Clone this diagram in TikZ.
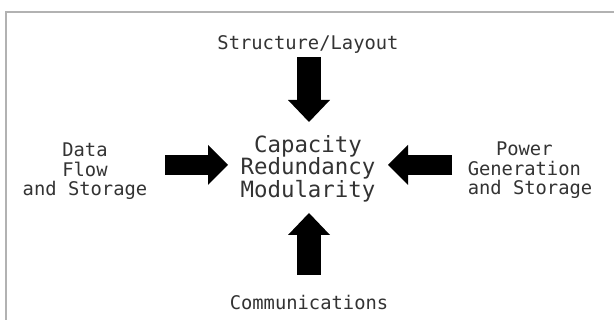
\documentclass[tikz,border=0pt]{standalone}
\usepackage{fontspec}
\setmonofont{DejaVu Sans Mono}
\usetikzlibrary{arrows.meta}

\tikzset{
  small label/.style={font=\ttfamily\fontsize{18.8}{19.5}\selectfont, text=black!80, align=center, inner sep=0pt},
  big label/.style={font=\ttfamily\fontsize{22.4}{22.5}\selectfont, text=black!80, align=center, inner sep=0pt},
  vblock/.style={line width=24pt, -{Triangle[width=42pt,length=22pt,line width=0pt]}},
  hblock/.style={line width=20pt, -{Triangle[width=40pt,length=20pt,line width=0pt]}}
}

\begin{document}
\begin{tikzpicture}[x=1pt,y=-1pt]
\useasboundingbox (0,0) rectangle (614,320);
\fill[white] (0,0) rectangle (614,320);

% frame
\draw[black!30, line width=1.5pt] (6,320) -- (6,12) -- (614,12);

% labels
\node[small label, anchor=base] (structure) at (308,49.5) {Structure/Layout};
\node[small label, anchor=base] (comms) at (309,310) {Communications};
\node[small label] (data) at (85,171.5) {Data\\Flow\\and Storage};
\node[small label] (power) at (530,170.5) {Power\hphantom{x}\\Generation\hphantom{x}\\and Storage};
\node[big label] (goals) at (308,168.5) {Capacity\\Redundancy\\Modularity};

% arrow ends
\coordinate (top start) at (309,57);
\coordinate (top tip) at (309,122);
\coordinate (bottom start) at (309,275);
\coordinate (bottom tip) at (309,213);
\coordinate (left start) at (165,165);
\coordinate (left tip) at (228,165);
\coordinate (right start) at (452,165);
\coordinate (right tip) at (388,165);

% block arrows
\draw[vblock] (top start) -- (top tip);
\draw[vblock] (bottom start) -- (bottom tip);
\draw[hblock] (left start) -- (left tip);
\draw[hblock] (right start) -- (right tip);

\end{tikzpicture}
\end{document}
